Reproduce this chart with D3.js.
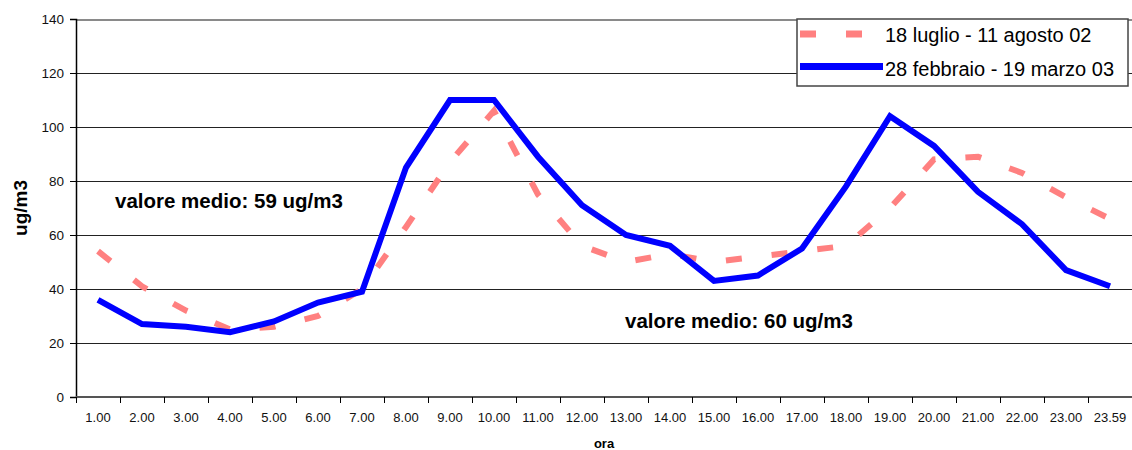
<!DOCTYPE html>
<html>
<head>
<meta charset="utf-8">
<script src="https://cdn.jsdelivr.net/npm/d3@7"></script>
<style>
  html, body { margin: 0; padding: 0; background: #fff; }
  svg { display: block; font-family: "Liberation Sans", Arial, sans-serif; }
</style>
</head>
<body>
<svg id="chart" width="1132" height="450"></svg>
<script>
const hours = ["1.00","2.00","3.00","4.00","5.00","6.00","7.00","8.00","9.00","10.00","11.00","12.00",
               "13.00","14.00","15.00","16.00","17.00","18.00","19.00","20.00","21.00","22.00","23.00","23.59"];
const summerValues = [54, 41, 32, 25, 26, 30, 40, 63, 87, 106, 75, 56, 50, 53, 50, 52, 54, 56, 70, 88, 89, 83, 74, 66];
const winterValues = [36, 27, 26, 24, 28, 35, 39, 85, 110, 110, 89, 71, 60, 56, 43, 45, 55, 78, 104, 93, 76, 64, 47, 41];
const seriesNames = ["18 luglio - 11 agosto 02", "28 febbraio - 19 marzo 03"];
const yTicks = [0, 20, 40, 60, 80, 100, 120, 140];
const notes = ["valore medio: 59 ug/m3", "valore medio: 60 ug/m3"];

const svg = d3.select("#chart");
const pLeft = 76, pRight = 1132, pTop = 19, pBottom = 397;

const x = d3.scaleBand().domain(hours).range([pLeft, pRight]).padding(0);
const y = d3.scaleLinear().domain([0, 140]).range([pBottom, pTop]);
const cx = d => x(d) + x.bandwidth() / 2;

// gridlines
svg.append("g").attr("shape-rendering", "crispEdges")
  .selectAll("line").data(yTicks.filter(t => t > 0)).join("line")
  .attr("x1", pLeft).attr("x2", pRight)
  .attr("y1", d => y(d) + 0.5).attr("y2", d => y(d) + 0.5)
  .attr("stroke", d => d === 140 ? "#8a8a8a" : "#222")
  .attr("stroke-width", d => d === 140 ? 2 : 1);

// y axis
const yAxis = svg.append("g").attr("transform", `translate(${pLeft},0)`)
  .call(d3.axisLeft(y).tickValues(yTicks).tickSize(6).tickPadding(6).tickFormat(d3.format("d")));
yAxis.select(".domain").attr("stroke", "#000").attr("stroke-width", 1.5);
yAxis.selectAll(".tick line").attr("stroke", "#000");
yAxis.selectAll("text").attr("font-size", "13.5px").attr("fill", "#111")
  .attr("font-family", "'Liberation Sans', Arial, sans-serif");

// x axis labels
const xAxis = svg.append("g").attr("transform", `translate(0,${pBottom})`)
  .call(d3.axisBottom(x).tickSize(0).tickPadding(16));
xAxis.select(".domain").remove();
xAxis.selectAll("text").attr("font-size", "13px").attr("fill", "#111")
  .attr("font-family", "'Liberation Sans', Arial, sans-serif");

// x axis line and boundary ticks
svg.append("line").attr("x1", pLeft).attr("x2", pRight).attr("y1", pBottom).attr("y2", pBottom)
  .attr("stroke", "#555").attr("stroke-width", 2);
svg.append("g").attr("shape-rendering", "crispEdges")
  .selectAll("line").data(hours).join("line")
  .attr("x1", d => x(d) + 0.5).attr("x2", d => x(d) + 0.5)
  .attr("y1", pBottom).attr("y2", pBottom + 6)
  .attr("stroke", "#000").attr("stroke-width", 1);

// lines
const line = d3.line().x((d, i) => cx(hours[i])).y(d => y(d));
svg.append("path").datum(summerValues).attr("d", line)
  .attr("fill", "none").attr("stroke", "#FF8080").attr("stroke-width", 6)
  .attr("stroke-dasharray", "16,30").attr("stroke-linecap", "butt");
svg.append("path").datum(winterValues).attr("d", line)
  .attr("fill", "none").attr("stroke", "#0000FF").attr("stroke-width", 6)
  .attr("stroke-linejoin", "miter");

// axis titles
svg.append("text").attr("x", (pLeft + pRight) / 2).attr("y", 448)
  .attr("text-anchor", "middle").attr("font-size", "13px").attr("font-weight", "bold").text("ora");
svg.append("text").attr("transform", `translate(27,${(pTop + pBottom) / 2}) rotate(-90)`)
  .attr("text-anchor", "middle").attr("font-size", "19px").attr("font-weight", "bold").text("ug/m3");

// notes
svg.append("text").attr("x", 115).attr("y", 208).attr("font-size", "20.5px").attr("font-weight", "bold").text(notes[0]);
svg.append("text").attr("x", 625).attr("y", 328).attr("font-size", "20.5px").attr("font-weight", "bold").text(notes[1]);

// legend
const lg = svg.append("g");
lg.append("rect").attr("x", 797).attr("y", 19).attr("width", 331).attr("height", 67)
  .attr("fill", "#fff").attr("stroke", "#444").attr("stroke-width", 1.5);
lg.append("line").attr("x1", 800).attr("x2", 883).attr("y1", 34).attr("y2", 34)
  .attr("stroke", "#FF8080").attr("stroke-width", 7).attr("stroke-dasharray", "16,30");
lg.append("line").attr("x1", 800).attr("x2", 883).attr("y1", 66.5).attr("y2", 66.5)
  .attr("stroke", "#0000FF").attr("stroke-width", 7);
lg.append("text").attr("x", 885).attr("y", 41.5).attr("font-size", "20px").text(seriesNames[0]);
lg.append("text").attr("x", 885).attr("y", 76).attr("font-size", "20px").text(seriesNames[1]);
</script>
</body>
</html>
